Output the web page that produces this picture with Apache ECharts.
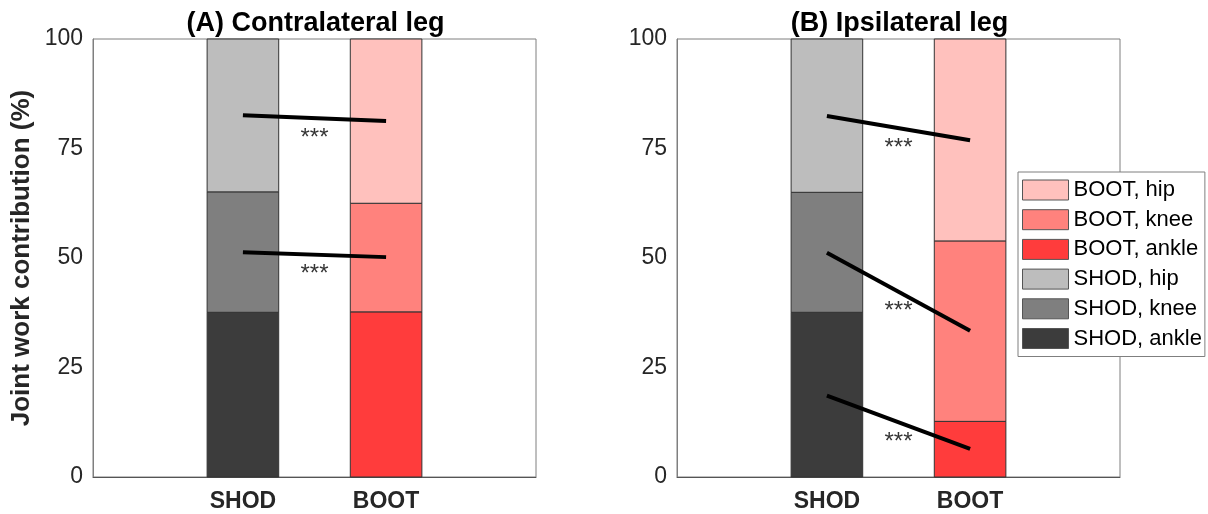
<!DOCTYPE html>
<html>
<head>
<meta charset="utf-8">
<script src="https://cdn.jsdelivr.net/npm/echarts@6/dist/echarts.min.js"></script>
<style>
html,body{margin:0;padding:0;background:#fff;}
#chart{width:1208px;height:514px;}
</style>
</head>
<body>
<div id="chart"></div>
<script>
// ---- data ----
const conditions = ['SHOD', 'BOOT'];
const conditionX = [1, 2];
const joints = ['ankle', 'knee', 'hip'];
const panelTitles = ['(A) Contralateral leg', '(B) Ipsilateral leg'];
const yTicks = [0, 25, 50, 75, 100];
// stacked contributions (%), order bottom to top: ankle, knee, hip
const contraShod = [37.6, 27.5, 34.9];
const contraBoot = [37.7, 24.8, 37.5];
const ipsiShod = [37.6, 27.4, 35.0];
const ipsiBoot = [12.7, 41.2, 46.1];
// comparison lines [SHOD value, BOOT value]
const contraLines = [[82.6, 81.3], [51.3, 50.2]];
const ipsiLines = [[82.4, 76.9], [51.2, 33.4], [18.6, 6.4]];
const sigLabel = '***';
const legendOrder = ['BOOT, hip', 'BOOT, knee', 'BOOT, ankle', 'SHOD, hip', 'SHOD, knee', 'SHOD, ankle'];

// ---- styles ----
const colors = {
  'SHOD, ankle': '#3c3c3c', 'SHOD, knee': '#7f7f7f', 'SHOD, hip': '#bdbdbd',
  'BOOT, ankle': '#ff3c3c', 'BOOT, knee': '#ff827d', 'BOOT, hip': '#ffc1bd'
};
const FONT = 'Liberation Sans, Arial, sans-serif';
const BAR_W = 0.5; // in x-axis units
const grids = [
  {left: 93, top: 39, width: 443, height: 438},
  {left: 677, top: 39, width: 443, height: 438}
];
const panels = [
  {shod: contraShod, boot: contraBoot, lines: contraLines},
  {shod: ipsiShod, boot: ipsiBoot, lines: ipsiLines}
];

function renderSeg(params, api) {
  const x = api.value(0), y0 = api.value(1), y1 = api.value(2);
  const p0 = api.coord([x, y0]);
  const p1 = api.coord([x, y1]);
  const w = api.size([BAR_W, 0])[0];
  const color = api.visual('color');
  return {
    type: 'rect',
    shape: {x: p0[0] - w / 2, y: p1[1], width: w, height: p0[1] - p1[1]},
    style: {fill: color, stroke: '#333', lineWidth: 1}
  };
}

const series = [];
panels.forEach((p, g) => {
  conditions.forEach((c, ci) => {
    const vals = ci === 0 ? p.shod : p.boot;
    let base = 0;
    joints.forEach((j, ji) => {
      const name = c + ', ' + j;
      series.push({
        name: name, type: 'custom', xAxisIndex: g, yAxisIndex: g, silent: true,
        renderItem: renderSeg,
        itemStyle: {color: colors[name], borderColor: '#555', borderWidth: 1},
        encode: {x: 0, y: [1, 2]},
        data: [[conditionX[ci], base, base + vals[ji]]],
        z: 2
      });
      base += vals[ji];
    });
  });
  p.lines.forEach((ln) => {
    series.push({
      type: 'line', xAxisIndex: g, yAxisIndex: g, symbol: 'none', z: 5, silent: true,
      lineStyle: {color: '#000', width: 4},
      data: [[conditionX[0], ln[0]], [conditionX[1], ln[1]]]
    });
    series.push({
      type: 'scatter', xAxisIndex: g, yAxisIndex: g, symbolSize: 0, z: 6, silent: true,
      label: {show: true, position: 'inside', formatter: sigLabel, fontSize: 24,
              fontFamily: FONT, color: '#000', offset: [0, 20]},
      data: [[(conditionX[0] + conditionX[1]) / 2, (ln[0] + ln[1]) / 2]]
    });
  });
});

const chart = echarts.init(document.getElementById('chart'), null, {renderer: 'canvas'});
chart.setOption({
  animation: false,
  backgroundColor: '#fff',
  textStyle: {fontFamily: FONT},
  title: panelTitles.map((t, g) => ({
    text: t, left: grids[g].left + grids[g].width / 2 - 4, top: 5, textAlign: 'center',
    textStyle: {fontSize: 27, fontWeight: 'bold', color: '#000', fontFamily: FONT}
  })),
  legend: {
    data: legendOrder, orient: 'vertical', left: 1018, top: 172,
    itemWidth: 46, itemHeight: 20, itemGap: 7.7,
    padding: [7, 3, 7, 4],
    backgroundColor: '#fff', borderColor: '#7f7f7f', borderWidth: 1, borderRadius: 0,
    icon: 'rect', itemStyle: {borderColor: '#555', borderWidth: 1},
    textStyle: {fontSize: 22, color: '#000', fontFamily: FONT},
    selectedMode: false, z: 10
  },
  grid: grids.map(gr => Object.assign({show: true, borderColor: '#7f7f7f', borderWidth: 1}, gr)),
  xAxis: grids.map((gr, g) => ({
    type: 'value', gridIndex: g, min: -0.047, max: 3.047,
    splitLine: {show: false}, axisTick: {show: false},
    axisLine: {show: true, onZero: false, lineStyle: {color: '#555', width: 1}},
    axisLabel: {
      customValues: conditionX,
      fontSize: 23, fontWeight: 'bold', color: '#262626', fontFamily: FONT, margin: 13,
      formatter: v => conditions[conditionX.indexOf(Math.round(v))] || ''
    }
  })),
  yAxis: grids.map((gr, g) => ({
    type: 'value', gridIndex: g, min: yTicks[0], max: yTicks[yTicks.length - 1], interval: 25,
    splitLine: {show: false}, axisTick: {show: false},
    axisLine: {show: true, onZero: false, lineStyle: {color: '#7f7f7f', width: 1}},
    axisLabel: {fontSize: 23, color: '#262626', fontFamily: FONT, margin: 10},
    name: g === 0 ? 'Joint work contribution (%)' : '',
    nameLocation: 'middle', nameGap: 58, nameRotate: 90,
    nameTextStyle: {fontSize: 26, fontWeight: 'bold', color: '#262626', fontFamily: FONT}
  })),
  series: series
});
</script>
</body>
</html>
